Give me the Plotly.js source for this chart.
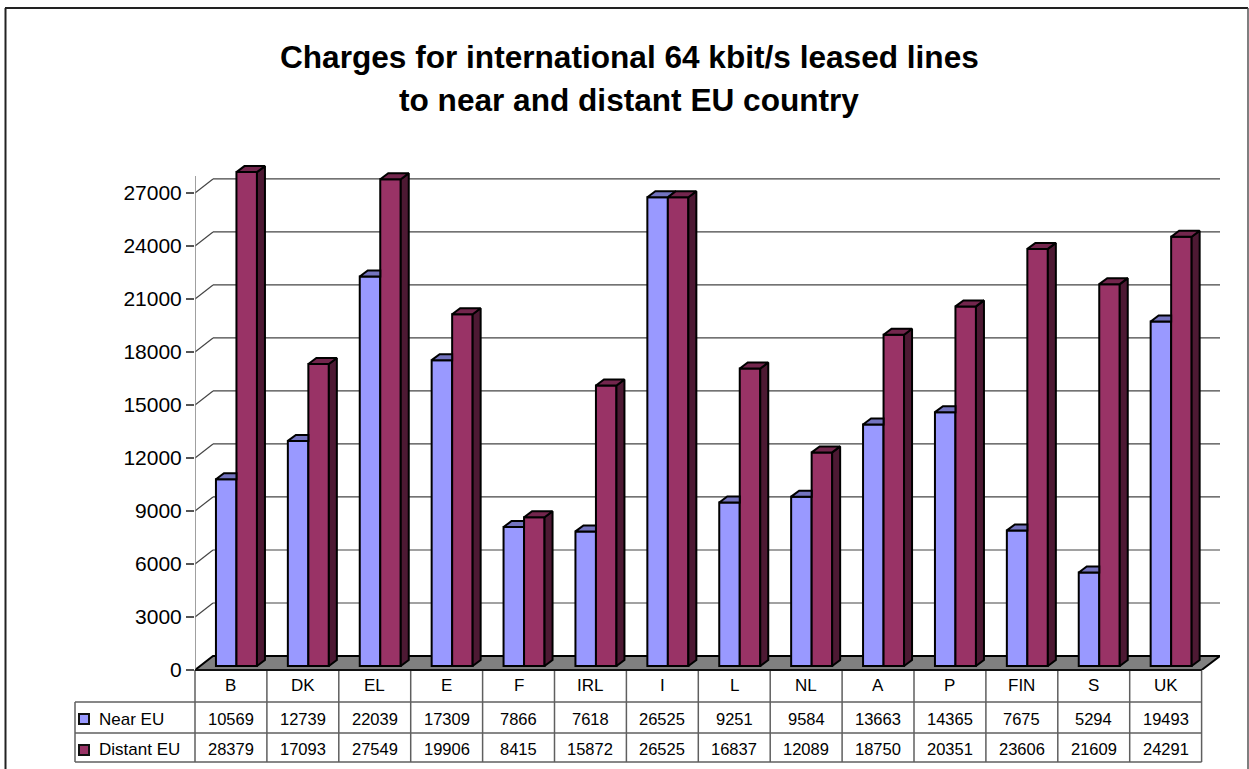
<!DOCTYPE html>
<html><head><meta charset="utf-8">
<script src="https://cdn.plot.ly/plotly-3.0.1.min.js"></script>
<style>html,body{margin:0;padding:0;background:#fff;overflow:hidden}</style>
</head><body><div id="chart" style="width:1249px;height:769px"></div>
<script>
const categories = ['B','DK','EL','E','F','IRL','I','L','NL','A','P','FIN','S','UK'];
const nearEU = [10569,12739,22039,17309,7866,7618,26525,9251,9584,13663,14365,7675,5294,19493];
const distantEU = [28379,17093,27549,19906,8415,15872,26525,16837,12089,18750,20351,23606,21609,24291];
const yTicks = [0,3000,6000,9000,12000,15000,18000,21000,24000,27000];
const axisMax = 27950;
const titleLines = ['Charges for international 64 kbit/s leased lines','to near and distant EU country'];

const W=1249,H=769, L=195,R=1220,T=160,B=670;
const sx=71.9, sy=0.01767;
const xMax=(R-L)/sx, yMax=(B-T)/sy;
const wallDx=18/sx, wallDy=14/sy, barDx=8/sx, barDy=6/sy, baseY=4/sy;
const barW=20.5/sx, shift=5.5/sx;
const PX=p=>(p-L)/(R-L), PY=p=>(B-p)/(B-T);
const tblLine='#5f5f5f';
const nearC='#9999ff', distC='#993366', nearTop='#7373bf', distTop='#73264d', distSide='#4d1933';

const shapes=[];
function line(x0,y0,x1,y1,color,w,xr,yr,layer){shapes.push({type:'line',xref:xr,yref:yr,x0,y0,x1,y1,line:{color,width:w},layer:layer||'below'});}
// floor
shapes.push({type:'path',xref:'x',yref:'y',layer:'below',fillcolor:'#808080',line:{color:'#000',width:2},
  path:`M0,0 L${wallDx},${wallDy} L${xMax},${wallDy} L${categories.length},0 Z`});
// walls / grid
yTicks.filter(v=>v>0).forEach(v=>{
  line(0,v,wallDx,v+wallDy,'#444',1.2,'x','y');
  line(wallDx,v+wallDy,xMax,v+wallDy,'#444',1.2,'x','y');
});
line(0,0,0,axisMax,'#808080',1.5,'x','y');
// table
const tTop=670,r1=702,r2=733,tBot=762,tL=75,tR=L+categories.length*sx;
for(let i=0;i<=categories.length;i++){line(PX(L+i*sx),PY(tTop),PX(L+i*sx),PY(tBot),tblLine,1.5,'paper','paper','above');}
line(PX(L),PY(tTop),PX(tR),PY(tTop),'#111',2,'paper','paper','above');
[r1,r2,tBot].forEach(r=>line(PX(tL),PY(r),PX(tR),PY(r),tblLine,1.5,'paper','paper','above'));
line(PX(tL),PY(r1),PX(tL),PY(tBot),tblLine,1.5,'paper','paper','above');
// legend keys
[[r1,nearC],[r2,distC]].forEach(([r,c])=>shapes.push({type:'rect',xref:'paper',yref:'paper',layer:'above',
  x0:PX(79),x1:PX(89),y0:PY(r+12),y1:PY(r+22),fillcolor:c,line:{color:'#111',width:2}}));
// frame
line(PX(5.5),PY(8),PX(5.5),PY(769),'#222',2,'paper','paper');
line(PX(5),PY(8),PX(1248),PY(8),'#222',2,'paper','paper');
line(PX(1248),PY(8),PX(1248),PY(769),'#555',1.5,'paper','paper');

const ann=[];
function text(t,x,y,size,anchor){ann.push({text:t,xref:'paper',yref:'paper',x:PX(x),y:PY(y),xanchor:anchor||'center',yanchor:'middle',showarrow:false,
  font:{family:'Liberation Sans, Arial, sans-serif',size,color:'#000'}});}
text('<b>'+titleLines[0]+'</b>',629,57,31.6);
text('<b>'+titleLines[1]+'</b>',629,100,31.6);
categories.forEach((c,i)=>{
  const cx=L+(i+0.5)*sx;
  text(c,cx,685,17);
  text(String(nearEU[i]),cx,719,16.5);
  text(String(distantEU[i]),cx,749,16.5);
});
text('Near EU',97,719,17,'left');
text('Distant EU',97,749,17,'left');

const clip=v=>Math.min(v,axisMax);
const xNear=categories.map((c,i)=>i+0.5+shift-barW/2);
const xDist=categories.map((c,i)=>i+0.5+shift+barW/2);
function barTrace(name,xs,vals,color){return {type:'bar',name,x:xs,y:vals.map(clip),base:vals.map(()=>baseY),width:barW,marker:{color,line:{color:'#000',width:2}},showlegend:false,hoverinfo:'skip'};}
function poly(name,pts,color){const x=[],y=[];pts.forEach(p=>{p.forEach(q=>{x.push(q[0]);y.push(q[1]);});x.push(p[0][0]);y.push(p[0][1]);x.push(null);y.push(null);});
  return {type:'scatter',mode:'lines',name,x,y,fill:'toself',fillcolor:color,line:{color:'#000',width:2},showlegend:false,hoverinfo:'skip',connectgaps:false};}
const nearTops=nearEU.map((v,i)=>{const x0=xNear[i]-barW/2,x1=xNear[i]+barW/2,y=v+baseY;
  const capped=distantEU[i]>v;
  return [[x0,y],[x0+barDx,y+barDy],[capped?x1:x1+barDx,y+barDy],[x1,y]];});
const distTops=distantEU.map((v,i)=>{const x0=xDist[i]-barW/2,x1=xDist[i]+barW/2,y=clip(v)+baseY;
  return [[x0,y],[x0+barDx,y+barDy],[x1+barDx,y+barDy],[x1,y]];});
const distSides=distantEU.map((v,i)=>{const x1=xDist[i]+barW/2,y=clip(v)+baseY;
  return [[x1,baseY],[x1+barDx,baseY+barDy],[x1+barDx,y+barDy],[x1,y]];});

const data=[barTrace('Near EU',xNear,nearEU,nearC),barTrace('Distant EU',xDist,distantEU,distC),
  poly('near top',nearTops,nearTop),poly('distant side',distSides,distSide),poly('distant top',distTops,distTop)];

const layout={width:W,height:H,paper_bgcolor:'#fff',plot_bgcolor:'rgba(0,0,0,0)',showlegend:false,barmode:'overlay',
  margin:{l:L,r:W-R,t:T,b:H-B,pad:0},
  xaxis:{range:[0,xMax],showgrid:false,zeroline:false,showticklabels:false,ticks:'',showline:false,fixedrange:true},
  yaxis:{range:[0,yMax],tickvals:yTicks,ticktext:yTicks.map(String),showgrid:false,zeroline:false,showline:false,ticks:'outside',ticklen:8,tickwidth:1.2,tickcolor:'#555',
    tickfont:{family:'Liberation Sans, Arial, sans-serif',size:21,color:'#000'},fixedrange:true},
  shapes,annotations:ann};
Plotly.newPlot('chart',data,layout,{displayModeBar:false,staticPlot:true});
</script></body></html>
